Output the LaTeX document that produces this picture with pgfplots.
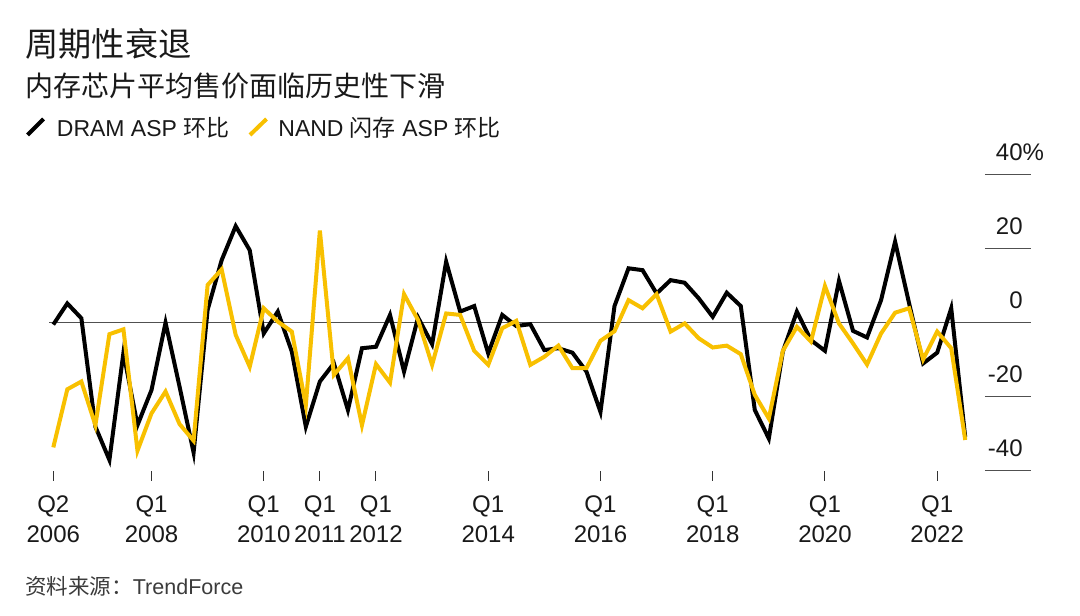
\documentclass[border=0pt]{standalone}
\usepackage{fontspec}
\setmainfont{Liberation Sans}
\newfontfamily\cjk{Noto Sans CJK SC}
\usepackage{pgfplots}
\usepackage{pgfplotstable}
\pgfplotsset{compat=1.18}

\definecolor{nandyellow}{RGB}{248,192,0}
\definecolor{txt}{RGB}{25,25,25}
\definecolor{rulec}{RGB}{80,80,80}
\newcommand\tickfont{\fontsize{12}{14}\selectfont}

% Quarter-on-quarter change in average selling price, %, Q2 2006 (q=0) .. Q3 2022 (q=65)
\pgfplotstableread{
q dram nand
0 -0.5 -33.7
1 5.2 -18.0
2 1.2 -15.9
3 -28.1 -27.7
4 -37.1 -3.1
5 -8.1 -1.8
6 -27.7 -34.6
7 -18.2 -24.5
8 0.0 -18.6
9 -17.3 -27.4
10 -35.1 -31.9
11 3.5 10.2
12 16.9 14.4
13 26.1 -3.3
14 19.6 -11.9
15 -2.9 3.9
16 3.0 0.3
17 -7.8 -2.4
18 -28.1 -22.3
19 -15.9 24.9
20 -11.0 -14.1
21 -23.6 -9.6
22 -6.9 -27.7
23 -6.5 -11.2
24 2.1 -16.2
25 -13.2 7.7
26 1.4 0.7
27 -5.8 -11.4
28 16.5 2.5
29 3.0 2.1
30 4.5 -7.6
31 -8.3 -11.4
32 2.1 -1.5
33 -0.9 0.5
34 -0.4 -11.4
35 -7.4 -9.2
36 -6.9 -6.2
37 -8.1 -12.3
38 -13.2 -12.3
39 -24.1 -4.9
40 4.5 -2.3
41 14.7 6.1
42 14.2 3.9
43 7.9 7.7
44 11.5 -2.4
45 10.8 -0.2
46 6.6 -4.2
47 1.6 -6.7
48 8.1 -6.2
49 4.5 -8.5
50 -23.6 -19.5
51 -31.3 -25.9
52 -7.8 -7.6
53 3.0 -1.1
54 -4.7 -5.1
55 -7.6 9.9
56 11.3 -0.2
57 -2.2 -5.6
58 -4.0 -11.3
59 6.1 -2.9
60 21.9 2.7
61 5.2 3.9
62 -11.0 -9.9
63 -8.1 -2.4
64 3.9 -6.9
65 -31.0 -31.7
}\asptable

\newcommand\qlabel[3]{%
  \node[anchor=base, font=\tickfont, text=txt, inner sep=0pt, yshift=-20.8pt] at (axis cs:#1,-40) {#2};
  \node[anchor=base, font=\tickfont, text=txt, inner sep=0pt, yshift=-36pt] at (axis cs:#1,-40) {#3};}
\newcommand\ylab[2]{%
  \draw[rulec, line width=0.8pt] (axis cs:66.4,#1) -- (axis cs:69.7,#1);
  \node[anchor=base east, font=\tickfont, text=txt, inner sep=0pt, yshift=7pt] at (axis cs:69.12,#1) {#2};}

\begin{document}
\begin{tikzpicture}
\path[use as bounding box] (0,0) rectangle (540pt,307.5pt);

% headings, legend and source (coordinates in half-points from the top left)
\begin{scope}[x=0.5pt, y=-0.5pt, shift={(0pt,307.5pt)}]
  \node[anchor=base west, inner sep=0pt, text=txt] at (25,56.5)
    {\cjk\fontsize{16.6}{20}\selectfont 周期性衰退};
  \node[anchor=base west, inner sep=0pt, text=txt] at (25,97)
    {\cjk\fontsize{14}{17}\selectfont 内存芯片平均售价面临历史性下滑};
  \draw[black, line width=2pt] (27.5,135) -- (43.5,119);
  \node[anchor=base west, inner sep=0pt, text=txt, font=\fontsize{11.5}{14}\selectfont] at (56.5,136.7)
    {DRAM ASP {\cjk 环比}};
  \draw[nandyellow, line width=2pt] (250,135) -- (266.5,119);
  \node[anchor=base west, inner sep=0pt, text=txt, font=\fontsize{11.5}{14}\selectfont] at (278,136.7)
    {NAND {\cjk 闪存} ASP {\cjk 环比}};
  \node[anchor=base west, inner sep=0pt, text=txt!85, font=\fontsize{10.75}{13}\selectfont] at (25,595)
    {{\cjk 资料来源：}TrendForce};
\end{scope}

\begin{axis}[
  at={(24.545pt,72.15pt)}, anchor=south west,
  scale only axis, width=491.05pt, height=148pt,
  xmin=-0.3, xmax=69.7, ymin=-40, ymax=40,
  axis line style={draw=none},
  ytick=\empty,
  xtick={0,7,15,19,23,31,39,47,55,63},
  xticklabel=\empty,
  xtick pos=bottom, tick align=outside,
  major tick length=5pt,
  xtick style={draw=black!80, line width=0.5pt},
  clip=false,
]
  \draw[rulec, line width=0.6pt] (axis cs:-0.3,0) -- (axis cs:69.7,0);
  \ylab{40}{40\rlap{\%}}
  \ylab{20}{20}
  \ylab{0}{0}
  \ylab{-20}{-20}
  \ylab{-40}{-40}

  \addplot[black, line width=2pt, line join=miter] table[x=q, y=dram] {\asptable};
  \addplot[nandyellow, line width=2pt, line join=miter] table[x=q, y=nand] {\asptable};

  \qlabel{0}{Q2}{2006}
  \qlabel{7}{Q1}{2008}
  \qlabel{15}{Q1}{2010}
  \qlabel{19}{Q1}{2011}
  \qlabel{23}{Q1}{2012}
  \qlabel{31}{Q1}{2014}
  \qlabel{39}{Q1}{2016}
  \qlabel{47}{Q1}{2018}
  \qlabel{55}{Q1}{2020}
  \qlabel{63}{Q1}{2022}
\end{axis}
\end{tikzpicture}
\end{document}
